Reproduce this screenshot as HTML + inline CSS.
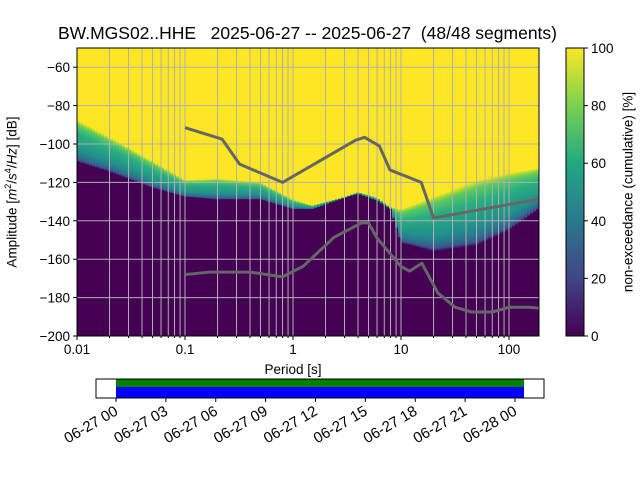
<!DOCTYPE html>
<html><head><meta charset="utf-8"><style>
body{margin:0;background:#fff;}
svg{font-family:"Liberation Sans","DejaVu Sans",sans-serif;}
</style></head><body>
<svg id="c" width="640" height="480" viewBox="0 0 640 480">
<defs>
<linearGradient id="band" x1="0" y1="1" x2="0" y2="0">
<stop offset="0" stop-color="#440154"/><stop offset="0.05" stop-color="#3b528b"/>
<stop offset="0.14" stop-color="#2c728e"/><stop offset="0.3" stop-color="#21918c"/>
<stop offset="0.68" stop-color="#29af7f"/><stop offset="0.88" stop-color="#5ec962"/>
<stop offset="0.96" stop-color="#b5de2b"/><stop offset="1" stop-color="#fde725"/></linearGradient>
<linearGradient id="cbar" x1="0" y1="1" x2="0" y2="0">
<stop offset="0" stop-color="#440154"/><stop offset="0.2" stop-color="#414487"/>
<stop offset="0.4" stop-color="#2a788e"/><stop offset="0.6" stop-color="#22a884"/>
<stop offset="0.8" stop-color="#7ad151"/><stop offset="1" stop-color="#fde725"/></linearGradient>
<clipPath id="plotclip"><rect x="77" y="48" width="462" height="288"/></clipPath>
</defs>
<g id="plot" clip-path="url(#plotclip)"></g>
<g id="axes"></g>
</svg>
<script>
const periods=[0.01,0.02,0.05,0.1,0.2,0.5,1,1.5,3,4,6,8,10,20,50,100,190];
const yellowEdge=[-87.5,-96.4,-109,-118.8,-118,-120,-129,-132,-127.6,-125,-128,-133,-134,-127.6,-119,-115,-112.5];
const purpleEdge=[-109.4,-114.6,-123,-127.6,-129,-129,-134,-134,-128,-126,-129.5,-134,-151.6,-156,-153,-145,-134];
const nhnmT=[0.1,0.22,0.32,0.8,3.8,4.6,6.3,7.9,15.4,20,354.8];
const nhnmDb=[-91.5,-97.4,-110.5,-120,-98,-96.5,-101,-113.5,-120,-138.5,-126];
const nlnmT=[0.1,0.17,0.4,0.8,1.24,2.4,4.3,5,6,10,12,15.6,21.9,31.6,45,70,101,154,190];
const nlnmDb=[-168,-166.7,-166.7,-169.2,-163.7,-148.6,-141.1,-141.1,-149,-163.8,-166.2,-162.1,-177.5,-185,-187.5,-187.5,-185,-185,-185.5];
const yTicks=[-60,-80,-100,-120,-140,-160,-180,-200];
const xTicks=[0.01,0.1,1,10,100];
const xTickLabels=["0.01","0.1","1","10","100"];
const cTicks=[0,20,40,60,80,100];
const timeTicks=["06-27 00","06-27 03","06-27 06","06-27 09","06-27 12","06-27 15","06-27 18","06-27 21","06-28 00"];

const NS="http://www.w3.org/2000/svg";
const X0=77,X1=539,Y0=48,Y1=336;
const xs=t=>X0+108*Math.log10(t/0.01);
const ys=d=>Y1-(d+200)*1.92;
function mk(tag,attrs,parent){const e=document.createElementNS(NS,tag);for(const k in attrs)e.setAttribute(k,attrs[k]);parent.appendChild(e);return e;}
const plot=document.getElementById('plot'),axes=document.getElementById('axes');
function interp(arrT,arrV,t){const lt=Math.log10(t);for(let i=0;i<arrT.length-1;i++){const a=Math.log10(arrT[i]),b=Math.log10(arrT[i+1]);if(lt>=a&&lt<=b){const f=(lt-a)/(b-a);return arrV[i]+f*(arrV[i+1]-arrV[i]);}}return lt<Math.log10(arrT[0])?arrV[0]:arrV[arrV.length-1];}

let bg=mk('rect',{x:X0,y:Y0,width:X1-X0,height:Y1-Y0,fill:'#440154'},plot);


for(let px=X0;px<X1;px+=3){
 const t=0.01*Math.pow(10,(px+1.5-X0)/108);
 const yy=ys(interp(periods,yellowEdge,t)), yp=ys(interp(periods,purpleEdge,t));
 let r=mk('rect',{x:px,y:Y0,width:3.2,height:yy-Y0+0.5,fill:'#fde725'},plot);
 
 
 const h=Math.max(yp-yy,0.5);
 r=mk('rect',{x:px,y:yy,width:3.2,height:h,fill:'url(#band)'},plot);
 
 
}
for(let d=-3;d<=2;d++)for(let m=1;m<=9;m++){const t=m*Math.pow(10,d-1)*10;const x=xs(t);if(x<X0-0.5||x>X1)continue;
 let l=mk('line',{x1:x,x2:x,y1:Y0,y2:Y1,stroke:'#b0b0b0','stroke-width':1},plot);
 
 }
yTicks.forEach(v=>{let l=mk('line',{x1:X0,x2:X1,y1:ys(v),y2:ys(v),stroke:'#b0b0b0','stroke-width':1},plot);
 
 });
function line(T,D,name){const pts=T.map((t,i)=>xs(t)+','+ys(D[i])).join(' ');
 const p=mk('polyline',{points:pts,fill:'none',stroke:'#666','stroke-width':3,'stroke-linejoin':'round'},plot);
 
 }
line(nhnmT,nhnmDb,'nhnm-line');line(nlnmT,nlnmDb,'nlnm-line');
let f=mk('rect',{x:X0,y:Y0,width:X1-X0,height:Y1-Y0,fill:'none',stroke:'#000','stroke-width':1},axes);


yTicks.forEach(v=>{const y=ys(v);mk('line',{x1:X0-4,x2:X0,y1:y,y2:y,stroke:'#000'},axes);
 const t=mk('text',{x:X0-7,y:y+5,'text-anchor':'end','font-size':13.5},axes);t.textContent=String(v).replace('-','−');
 
 });
xTicks.forEach((v,i)=>{const x=xs(v);mk('line',{x1:x,x2:x,y1:Y1,y2:Y1+4,stroke:'#000'},axes);
 const t=mk('text',{x:x,y:Y1+18,'text-anchor':'middle','font-size':13.5},axes);t.textContent=xTickLabels[i];
 
 });
for(let d=-2;d<=2;d++)for(let m=2;m<=9;m++){const x=xs(m*Math.pow(10,d));if(x>X1)continue;mk('line',{x1:x,x2:x,y1:Y1,y2:Y1+2,stroke:'#000'},axes);}
let cb=mk('rect',{x:566,y:Y0,width:18,height:Y1-Y0,fill:'url(#cbar)',stroke:'#000','stroke-width':1},axes);


cTicks.forEach(v=>{const y=Y1-v/100*(Y1-Y0);mk('line',{x1:584,x2:588,y1:y,y2:y,stroke:'#000'},axes);
 const t=mk('text',{x:591,y:y+5,'font-size':13.5},axes);t.textContent=v;
 
 });
const TB0=116,TB1=515;
let tb=mk('rect',{x:96,y:379,width:448,height:19,fill:'#fff',stroke:'#000'},axes);


let g1=mk('rect',{x:TB0,y:379.5,width:524-TB0,height:7.5,fill:'#008000'},axes);


let b1=mk('rect',{x:TB0,y:387,width:524-TB0,height:10.5,fill:'#0000ff'},axes);


timeTicks.forEach((s,i)=>{const x=TB0+i*(TB1-TB0)/8;mk('line',{x1:x,x2:x,y1:398,y2:402,stroke:'#000'},axes);
 const t=mk('text',{x:x+3,y:414,'text-anchor':'end','font-size':15,transform:`rotate(-30 ${x+3} 414)`},axes);t.textContent=s;
 
 });
</script>
<div style="position:absolute;left:0;top:0;width:640px;height:480px;font-family:'Liberation Sans','DejaVu Sans',sans-serif;pointer-events:none;">
<div style="position:absolute;left:0;width:615px;top:23px;text-align:center;font-size:17.5px;white-space:pre;">BW.MGS02..HHE   2025-06-27 -- 2025-06-27  (48/48 segments)</div>
<div style="position:absolute;left:258px;width:70px;top:362px;text-align:center;font-size:13.5px;">Period [s]</div>
<div style="position:absolute;left:11px;top:192px;font-size:13.5px;white-space:nowrap;transform:translate(-50%,-50%) rotate(-90deg);">Amplitude [<i>m</i><sup style="font-size:9px">2</sup>/<i>s</i><sup style="font-size:9px">4</sup>/<i>Hz</i>] [dB]</div>
<div style="position:absolute;left:628px;top:192px;font-size:13.5px;white-space:nowrap;transform:translate(-50%,-50%) rotate(-90deg);">non-exceedance (cumulative) [%]</div>
</div>
</body></html>
